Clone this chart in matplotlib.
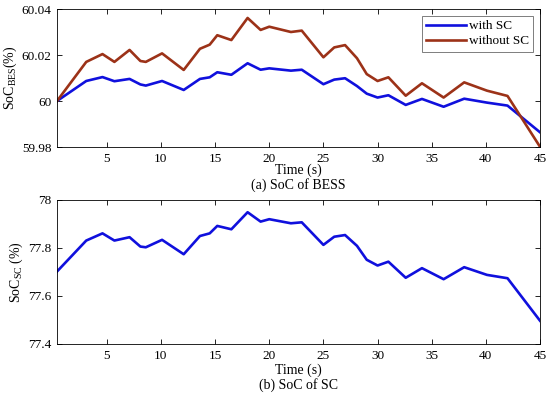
import matplotlib
matplotlib.use("Agg")
import matplotlib.pyplot as plt

plt.rcParams['font.family'] = ['Liberation Serif', 'DejaVu Serif']
plt.rcParams['mathtext.fontset'] = 'custom'
plt.rcParams['mathtext.rm'] = 'Liberation Serif'
plt.rcParams['mathtext.it'] = 'Liberation Serif:italic'

# ---- data ----
time_s = [0.4, 3.1, 4.6, 5.7, 7.1, 8.1, 8.6, 10.1, 12.1, 13.6, 14.5, 15.2, 16.5,
          18.0, 19.2, 20.0, 22.0, 23.0, 25.0, 26.0, 27.0, 28.1, 29.0, 30.0, 31.0,
          32.6, 34.1, 36.1, 38.0, 40.1, 42.0, 45.0]
bess_with_sc = [60.0, 60.0087, 60.0104, 60.0086, 60.0096, 60.0072, 60.0067, 60.0087,
                60.0048, 60.0096, 60.0103, 60.0125, 60.0114, 60.0164, 60.0136, 60.0142,
                60.0132, 60.0136, 60.0073, 60.0093, 60.0099, 60.0065, 60.0032, 60.0015,
                60.0025, 59.9983, 60.0009, 59.9975, 60.0010, 59.9993, 59.9980, 59.9864]
bess_without_sc = [60.0, 60.0170, 60.0204, 60.0170, 60.0222, 60.0174, 60.0170, 60.0207,
                   60.0135, 60.0227, 60.0245, 60.0286, 60.0265, 60.0361, 60.0309, 60.0323,
                   60.0300, 60.0306, 60.0190, 60.0233, 60.0243, 60.0186, 60.0117, 60.0087,
                   60.0103, 60.0023, 60.0077, 60.0015, 60.0081, 60.0045, 60.0022, 59.9801]
soc_sc = [77.702, 77.831, 77.861, 77.831, 77.845, 77.806, 77.803, 77.834,
          77.774, 77.850, 77.861, 77.892, 77.878, 77.949, 77.910, 77.920,
          77.903, 77.907, 77.813, 77.847, 77.854, 77.809, 77.751, 77.727,
          77.743, 77.676, 77.716, 77.670, 77.720, 77.688, 77.674, 77.497]
xticks = [5, 10, 15, 20, 25, 30, 35, 40, 45]
yticks_bess = [59.98, 60.0, 60.02, 60.04]
yticklabels_bess = ['59.98', '60', '60.02', '60.04']
yticks_sc = [77.4, 77.6, 77.8, 78.0]
yticklabels_sc = ['77.4', '77.6', '77.8', '78']

BLUE = '#1010dd'
RED = '#9c3218'
FS = 9.5

W, H = 550, 395
fig = plt.figure(figsize=(W / 100, H / 100), dpi=100)

def px_axes(l, t, r, b):
    return fig.add_axes([l / W, 1 - b / H, (r - l) / W, (b - t) / H])

def style(ax):
    ax.tick_params(direction='in', top=True, right=True, labelsize=FS,
                   length=3.5, width=0.6, pad=4)
    for s in ax.spines.values():
        s.set_linewidth(0.6)

ax1 = px_axes(57, 9, 540, 147)
ax1.plot(time_s, bess_with_sc, color=BLUE, lw=1.9, label='with SC')
ax1.plot(time_s, bess_without_sc, color=RED, lw=1.9, label='without SC')
ax1.set_xlim(0.4, 45)
ax1.set_ylim(59.98, 60.04)
ax1.set_xticks(xticks)
ax1.set_yticks(yticks_bess)
ax1.set_yticklabels(yticklabels_bess)
style(ax1)
ax1.set_ylabel(r'SoC$_{\mathrm{BES}}$(%)', fontsize=FS + 0.5, labelpad=2)
leg = ax1.legend(loc='upper right', fontsize=FS, frameon=True, fancybox=False,
                 edgecolor='#444444', handlelength=3.0, handletextpad=0.2,
                 borderpad=0.35, labelspacing=0.2, borderaxespad=0.5)
leg.get_frame().set_linewidth(0.6)

ax2 = px_axes(57, 200, 540, 344)
ax2.plot(time_s, soc_sc, color=BLUE, lw=1.9)
ax2.set_xlim(0.4, 45)
ax2.set_ylim(77.4, 78.0)
ax2.set_xticks(xticks)
ax2.set_yticks(yticks_sc)
ax2.set_yticklabels(yticklabels_sc)
style(ax2)
ax2.set_ylabel(r'SoC$_{\mathrm{SC}}$ (%)', fontsize=FS + 0.5, labelpad=2)

cx = (57 + 540) / 2 / W
fig.text(cx, 1 - 170 / H, 'Time (s)', ha='center', va='center', fontsize=FS + 0.5)
fig.text(cx, 1 - 185 / H, '(a) SoC of BESS', ha='center', va='center', fontsize=FS + 0.5)
fig.text(cx, 1 - 370 / H, 'Time (s)', ha='center', va='center', fontsize=FS + 0.5)
fig.text(cx, 1 - 385 / H, '(b) SoC of SC', ha='center', va='center', fontsize=FS + 0.5)

fig.savefig('out.png', dpi=100)
